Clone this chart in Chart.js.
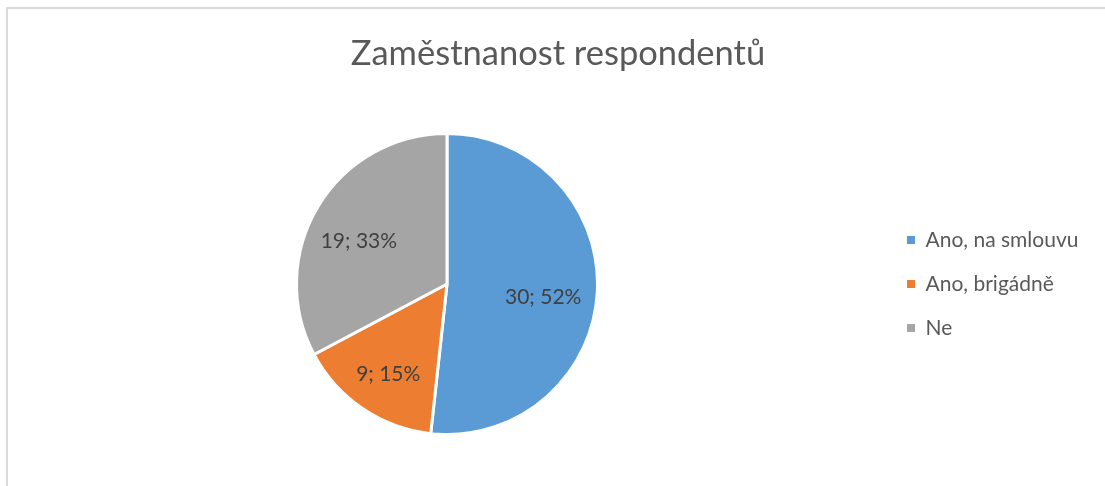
<!DOCTYPE html>
<html>
<head>
<meta charset="utf-8">
<script src="https://cdn.jsdelivr.net/npm/chart.js@4"></script>
<style>
  html, body { margin: 0; padding: 0; background: #fff; overflow: hidden; }
  #wrap { position: relative; width: 1105px; height: 486px; overflow: hidden; }
  #frame { position: absolute; left: 6px; top: 7px; right: 0; bottom: 0;
           border-top: 2px solid #dadada; border-left: 2px solid #dadada; }
  canvas { position: absolute; left: 0; top: 0; }
</style>
</head>
<body>
<div id="wrap">
  <div id="frame"></div>
  <canvas id="myChart" width="1105" height="486"></canvas>
</div>
<script>
var titleText = 'Zaměstnanost respondentů'
var labels = ['Ano, na smlouvu', 'Ano, brigádně', 'Ne']
var values = [30, 9, 19]
var percentLabels = ['52%', '15%', '33%']
var colors = ['#5B9BD5', '#ED7D31', '#A5A5A5']

var fontName = 'Lato'
var legendSize = 21
var legendPad = 23
var legendBox = 8

// measure the longest legend text so the legend sits where it should
var mctx = document.createElement('canvas').getContext('2d')
mctx.font = legendSize + 'px ' + fontName
var tw = 0
labels.forEach(function (l) { tw = Math.max(tw, mctx.measureText(l).width) })
var legendLeft = 907 - legendPad
var legendWidth = legendPad + legendBox + legendSize / 2 + tw + 10
var padRight = 1105 - legendLeft - legendWidth
var pieCenterX = 447
var padLeft = 2 * pieCenterX - legendLeft
var titleCenterX = 558

var dataLabels = {
  id: 'dataLabels',
  afterLayout: function (chart) {
    // move the title block so it is centred on the whole picture, as in the original
    var t = chart.titleBlock
    var dx = titleCenterX - (t.left + t.right) / 2
    t.left += dx
    t.right += dx
  },
  afterDatasetsDraw: function (chart) {
    var ctx = chart.ctx
    var meta = chart.getDatasetMeta(0)
    ctx.save()
    ctx.font = '21px ' + fontName
    ctx.fillStyle = '#404040'
    ctx.textAlign = 'center'
    ctx.textBaseline = 'middle'
    meta.data.forEach(function (arc, i) {
      var p = arc.getProps(['x', 'y', 'startAngle', 'endAngle', 'outerRadius'])
      var a = (p.startAngle + p.endAngle) / 2
      var r = p.outerRadius * 0.66
      ctx.fillText(values[i] + '; ' + percentLabels[i], p.x + Math.cos(a) * r - 3, p.y + Math.sin(a) * r + 8)
    })
    ctx.restore()
  }
}

var ctx1 = document.getElementById('myChart').getContext('2d')
var chart = new Chart(ctx1, {
  type: 'pie',
  data: {
    labels: labels,
    datasets: [{
      data: values,
      backgroundColor: colors,
      borderColor: '#ffffff',
      borderWidth: 3
    }]
  },
  options: {
    responsive: false,
    animation: false,
    layout: {
      padding: { top: 0, bottom: 50, left: padLeft, right: padRight }
    },
    plugins: {
      title: {
        display: true,
        text: titleText,
        color: '#595959',
        font: { family: fontName, size: 34.5, weight: 'normal' },
        padding: { top: 33, bottom: 57.6 }
      },
      legend: {
        position: 'right',
        fullSize: false,
        labels: {
          color: '#595959',
          font: { family: fontName, size: legendSize },
          boxWidth: legendBox,
          boxHeight: legendBox,
          padding: legendPad,
          generateLabels: function (c) {
            var items = Chart.overrides.pie.plugins.legend.labels.generateLabels(c)
            items.forEach(function (it) { it.lineWidth = 0; it.strokeStyle = 'rgba(0,0,0,0)' })
            return items
          }
        }
      },
      tooltip: { enabled: false }
    }
  },
  plugins: [dataLabels]
})
</script>
</body>
</html>
